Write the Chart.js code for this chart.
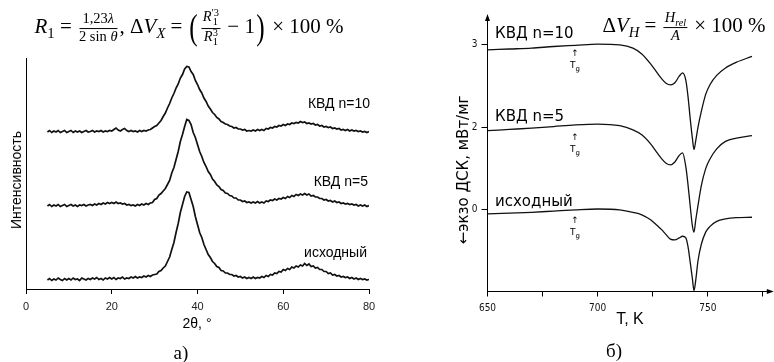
<!DOCTYPE html>
<html lang="ru">
<head>
<meta charset="utf-8">
<script src="https://cdn.jsdelivr.net/npm/chart.js@4/dist/chart.umd.min.js"></script>
<style>
  html, body { margin: 0; padding: 0; background: #fff; }
  #page { position: relative; width: 774px; height: 362px; overflow: hidden; background: #fff; }
  canvas { position: absolute; top: 0; }
  .t { position: absolute; white-space: nowrap; color: #000; line-height: 1; z-index: 2; }
  .c { transform: translate(-50%, -50%); }
  .arial { font-family: "Liberation Sans", Arial, sans-serif; font-size: 14px; }
  .dv { font-family: "DejaVu Sans", sans-serif; font-size: 15px; }
  .tex { font-family: "Liberation Serif", "DejaVu Serif", serif; font-size: 21px; }
  .tex sub, .tex sup { font-size: 0.7em; line-height: 0; }
  .frac { display: inline-flex; flex-direction: column; vertical-align: middle; text-align: center; font-size: 14.5px; line-height: 1.1; margin: 0 2px; }
  .frac > span:first-child { border-bottom: 0.9px solid #000; padding: 0 1px 1px; }
  .ss { display: inline-flex; flex-direction: column; font-size: 0.72em; line-height: 0.85; vertical-align: middle; }
  .big { display: inline-block; font-size: 36px; font-weight: 300; transform: scaleX(0.7); vertical-align: -6px; }
  .tg { position: absolute; font-family: "DejaVu Sans", sans-serif; font-size: 9px; line-height: 12px; text-align: center; transform: translateX(-50%); z-index: 2; }
  .tg sub { font-size: 7px; line-height: 0; }
</style>
</head>
<body>
<div id="page">
  <canvas id="xrd" width="390" height="362" style="left:0"></canvas>
  <canvas id="dsc" width="374" height="362" style="left:400px"></canvas>

  <!-- формулы -->
  <div class="t tex c" style="left:189px; top:28px">
    <i>R</i><sub>1</sub> = <span class="frac"><span>1,23<i>λ</i></span><span>2 sin <i>θ</i></span></span>, Δ<i>V</i><sub><i>X</i></sub> = <span class="big">(</span><span class="frac"><span><i>R</i><span class="ss"><span>′3</span><span>1</span></span></span><span><i>R</i><span class="ss"><span>3</span><span>1</span></span></span></span> − 1<span class="big">)</span> × 100 %
  </div>
  <div class="t tex c" style="left:684px; top:27px">
    Δ<i>V</i><sub><i>H</i></sub> = <span class="frac"><span><i>H</i><sub><i>rel</i></sub></span><span><i>A</i></span></span> × 100 %
  </div>

  <!-- левая панель -->
  <div class="t arial c" style="left:16px; top:180px; transform:translate(-50%,-50%) rotate(-90deg)">Интенсивность</div>
  <div class="t arial" style="right:404px; top:95.8px">КВД n=10</div>
  <div class="t arial" style="right:406px; top:174px">КВД n=5</div>
  <div class="t arial" style="right:407px; top:244.8px">исходный</div>
  <div class="t arial c" style="left:197px; top:323px">2θ, °</div>
  <div class="t c" style="left:181px; top:352px; font-family:'Liberation Serif',serif; font-size:19px">а)</div>

  <!-- правая панель -->
  <div class="t dv c" style="left:463px; top:170px; transform:translate(-50%,-50%) rotate(-90deg)">←экзо ДСК, мВт/мг</div>
  <div class="t dv" style="left:495px; top:26.3px">КВД n=10</div>
  <div class="t dv" style="left:495px; top:109.3px">КВД n=5</div>
  <div class="t dv" style="left:495px; top:194.3px">исходный</div>
  <div class="tg" style="left:575px; top:47px">↑<br>T<sub>g</sub></div>
  <div class="tg" style="left:575px; top:131px">↑<br>T<sub>g</sub></div>
  <div class="tg" style="left:575px; top:214px">↑<br>T<sub>g</sub></div>
  <div class="t arial c" style="left:630px; top:319px; font-size:16px">T, K</div>
  <div class="t c" style="left:614px; top:350px; font-family:'Liberation Serif',serif; font-size:19px">б)</div>
</div>

<script>
'use strict';

// ---- а) рентгенограммы, 2θ от 5 до 80 с шагом 0,5 ----
const theta0 = 5, thetaStep = 0.5;
const xrdTicks = [0, 20, 40, 60, 80];

const xrdInit = [
    9, 10.5, 8.5, 10, 9, 11, 9.5, 8.5, 10.5, 9,
    10.5, 9, 11, 9.5, 10, 8.5, 11, 10, 9, 10.5,
    9.5, 11, 10, 11.5, 9.5, 10.5, 9, 11, 10, 11.5,
    10, 11.5, 9.5, 11, 10.5, 12, 10, 11, 10.5, 12,
    11, 12.5, 11, 12, 11.5, 13, 12, 13.5, 12.5, 14,
    14.5, 15, 17.5, 18.5, 21, 23, 27.5, 32, 39.5, 46.5,
    56.5, 65.5, 76.5, 84.5, 92.5, 97, 96.5, 89.5, 82.5, 72.5,
    64.5, 56.5, 51.5, 44.5, 39.5, 34.5, 31.5, 27.5, 25.5, 22.5,
    21.5, 18.5, 18, 16, 16, 14.5, 14.5, 13, 13.5, 12,
    12.5, 11, 12, 10.5, 11.5, 10.5, 12, 10.5, 11.5, 11,
    12.5, 11.5, 13.5, 12.5, 14.5, 14, 16, 15.5, 17.5, 17,
    19.5, 18.5, 20.5, 19.5, 22, 21, 23, 22, 24, 23,
    25.5, 23.5, 25, 22.5, 23, 21, 21.5, 19.5, 19.5, 17.5,
    17.5, 15.5, 16, 14, 14.5, 13, 13.5, 12, 12.5, 11.5,
    12, 10.5, 11.5, 10, 11, 9.5, 10.5, 9.5, 10, 9,
    9.5
];

const xrdN5 = [
    83, 84.5, 82.5, 84, 83, 84.5, 82.5, 83.5, 84.5, 82.5,
    83.5, 84.5, 83, 84, 82.5, 84, 83.5, 84.5, 83, 84,
    84.5, 83.5, 85, 84, 85.5, 84.5, 86, 85, 86.5, 85.5,
    86.5, 85.5, 87, 85.5, 86, 85, 85.5, 84, 84.5, 83.5,
    84, 83, 84.5, 83.5, 85, 84, 85.5, 84.5, 86, 86.5,
    89.5, 90.5, 94, 95.5, 98, 100.5, 104.5, 108.5, 116, 121.5,
    129.5, 137.5, 147.5, 154.5, 162.5, 169.5, 168.5, 164.5, 156.5, 151.5,
    144.5, 137.5, 132.5, 126.5, 122.5, 117.5, 114.5, 110, 107.5, 104,
    102.5, 99.5, 98.5, 96, 95.5, 93.5, 93, 91, 91, 89,
    89, 87.5, 88, 86.5, 87, 86, 87, 86, 87.5, 86,
    87, 86, 88, 87.5, 89, 88.5, 90, 89, 90.5, 90,
    91.5, 90.5, 92.5, 91.5, 93.5, 92.5, 94.5, 93.5, 95, 94,
    95.5, 94, 95, 93, 93.5, 92, 92, 90.5, 90.5, 89,
    89.5, 88, 88.5, 87, 88, 86.5, 87, 85.5, 86, 85,
    85.5, 84.5, 85, 84, 84.5, 83, 84, 83, 84, 82.5,
    83.5
];

const xrdN10 = [
    157, 158.5, 156.5, 158, 157, 158.5, 156.5, 157.5, 158.5, 156.5,
    157.5, 158.5, 156.5, 158, 157, 158, 156.5, 157.5, 158.5, 157,
    157.5, 158.5, 157, 158, 157.5, 158.5, 157, 158, 157.5, 158.5,
    158, 159.5, 161, 159, 158, 159.5, 160.5, 158.5, 157.5, 158.5,
    157.5, 158, 157, 158.5, 157.5, 158.5, 158, 159, 159.5, 161,
    162.5, 163.5, 166, 168.5, 172.5, 176, 181, 185.5, 191, 195.5,
    201, 205, 211, 214.5, 220, 222.5, 222, 217.5, 214.5, 208.5,
    204.5, 199.5, 196, 191, 187.5, 183, 180, 176.5, 174.5, 171.5,
    170, 167.5, 166.5, 165, 164.5, 163, 162.5, 161, 161.5, 160,
    160, 159, 159.5, 158, 158.5, 158, 159, 158, 159.5, 158.5,
    159.5, 158.5, 160.5, 160, 161.5, 161, 162.5, 162, 163.5, 163,
    164.5, 163.5, 165, 164.5, 166, 165.5, 166.5, 166, 167.5, 166.5,
    167, 165.5, 166, 165, 165.5, 164, 164.5, 163, 163.5, 162,
    162.5, 161.5, 162, 160.5, 161, 160, 160.5, 159, 159.5, 158.5,
    159.5, 158, 159, 158, 158.5, 157.5, 158, 157, 157.5, 156.5,
    157.5
];

// ---- б) ДСК ----
const dscT = [650, 660, 670, 680, 690, 700, 710, 716, 720, 724, 727, 729, 731, 733, 735, 737, 738.5, 740, 741, 742, 743, 743.7, 744.5, 745.5, 747, 749, 751, 754, 758, 763, 770];
const dscN10 = [1.94, 1.95, 1.96, 1.98, 1.995, 2.01, 2.0, 1.96, 1.89, 1.77, 1.66, 1.59, 1.535, 1.515, 1.54, 1.62, 1.66, 1.57, 1.37, 1.10, 0.86, 0.73, 0.84, 1.00, 1.19, 1.40, 1.52, 1.63, 1.72, 1.79, 1.86];
const dscN5 = [0.96, 0.975, 0.99, 1.01, 1.03, 1.04, 1.02, 0.97, 0.91, 0.80, 0.69, 0.62, 0.565, 0.545, 0.58, 0.66, 0.69, 0.52, 0.30, 0.04, -0.20, -0.27, -0.12, 0.05, 0.29, 0.50, 0.62, 0.74, 0.83, 0.87, 0.90];
const dscInit = [-0.05, -0.04, -0.03, -0.015, 0.0, 0.01, 0.0, -0.03, -0.06, -0.12, -0.19, -0.24, -0.30, -0.355, -0.365, -0.34, -0.32, -0.34, -0.45, -0.64, -0.84, -0.98, -0.85, -0.62, -0.42, -0.27, -0.20, -0.14, -0.11, -0.095, -0.09];
const dscXTicks = [650, 675, 700, 725, 750, 775];
const dscXLabels = [650, 700, 750];
const dscYTicks = [0, 1, 2];
const dscYLabels = ['0', '2', '3'];

function linia(points, width)
{
    return {
        data: points,
        borderColor: '#111',
        borderWidth: width,
        pointRadius: 0,
        fill: false
    };
}

function xrdPoints(values)
{
    return values.map((v, i) => ({ x: theta0 + i * thetaStep, y: v }));
}

function dscPoints(values)
{
    return values.map((v, i) => ({ x: dscT[i], y: v }));
}

// стрелки на концах осей
const strelki = {
    id: 'strelki',
    afterDraw(chart)
    {
        const ctx = chart.ctx, a = chart.chartArea;
        ctx.save();
        ctx.fillStyle = '#000';
        ctx.beginPath();
        ctx.moveTo(a.left, a.top - 2);
        ctx.lineTo(a.left - 2.5, a.top + 5);
        ctx.lineTo(a.left + 2.5, a.top + 5);
        ctx.closePath();
        ctx.fill();
        ctx.beginPath();
        ctx.moveTo(a.right + 2, a.bottom);
        ctx.lineTo(a.right - 5, a.bottom - 2.5);
        ctx.lineTo(a.right - 5, a.bottom + 2.5);
        ctx.closePath();
        ctx.fill();
        ctx.restore();
    }
};

new Chart(document.getElementById('xrd'), {
    type: 'line',
    data: {
        datasets: [linia(xrdPoints(xrdN10), 1.7), linia(xrdPoints(xrdN5), 1.7), linia(xrdPoints(xrdInit), 1.7)]
    },
    options: {
        responsive: false,
        animation: false,
        devicePixelRatio: 1,
        layout: { padding: { left: 26, right: 21, top: 58, bottom: 0 } },
        plugins: { legend: { display: false }, tooltip: { enabled: false } },
        elements: { line: { tension: 0 } },
        scales: {
            x: {
                type: 'linear', min: 0, max: 80,
                afterFit(s) { s.height = 73; },
                afterBuildTicks(s) { s.ticks = xrdTicks.map(v => ({ value: v })); },
                grid: { display: true, drawOnChartArea: false, drawTicks: true, tickLength: 5, color: '#000' },
                border: { display: true, color: '#000', width: 1 },
                ticks: { padding: 6, color: '#222', maxRotation: 0, font: { family: 'Liberation Sans', size: 11 } }
            },
            y: {
                type: 'linear', min: 0, max: 231,
                afterFit(s) { s.width = 0; },
                grid: { display: false },
                ticks: { display: false },
                border: { display: true, color: '#000', width: 1 }
            }
        }
    }
});

new Chart(document.getElementById('dsc'), {
    type: 'line',
    data: {
        datasets: [linia(dscPoints(dscN10), 1.3), linia(dscPoints(dscN5), 1.3), linia(dscPoints(dscInit), 1.3)]
    },
    options: {
        responsive: false,
        animation: false,
        devicePixelRatio: 1,
        layout: { padding: { left: 0, right: 2.2, top: 16, bottom: 0 } },
        plugins: { legend: { display: false }, tooltip: { enabled: false } },
        elements: { line: { tension: 0.4, cubicInterpolationMode: 'monotone' } },
        scales: {
            x: {
                type: 'linear', min: 650, max: 779,
                afterFit(s) { s.height = 70.5; },
                afterBuildTicks(s) { s.ticks = dscXTicks.map(v => ({ value: v })); },
                grid: { display: true, drawOnChartArea: false, drawTicks: true, tickLength: 5, color: '#000' },
                border: { display: true, color: '#000', width: 1 },
                ticks: {
                    padding: 6, color: '#111', maxRotation: 0, autoSkip: false,
                    font: { family: "'Liberation Sans Narrow', 'DejaVu Sans Condensed', sans-serif", size: 10 },
                    callback: v => dscXLabels.includes(v) ? String(v) : ''
                }
            },
            y: {
                type: 'linear', min: -0.99, max: 2.35,
                afterFit(s) { s.width = 87.5; },
                afterBuildTicks(s) { s.ticks = dscYTicks.map(v => ({ value: v })); },
                grid: { display: true, drawOnChartArea: false, drawTicks: true, tickLength: 6, color: '#000' },
                border: { display: true, color: '#000', width: 1 },
                ticks: {
                    padding: 4, color: '#111',
                    font: { family: "'Liberation Sans Narrow', 'DejaVu Sans Condensed', sans-serif", size: 10 },
                    callback: v => dscYLabels[dscYTicks.indexOf(v)] ?? ''
                }
            }
        }
    },
    plugins: [strelki]
});
</script>
</body>
</html>
